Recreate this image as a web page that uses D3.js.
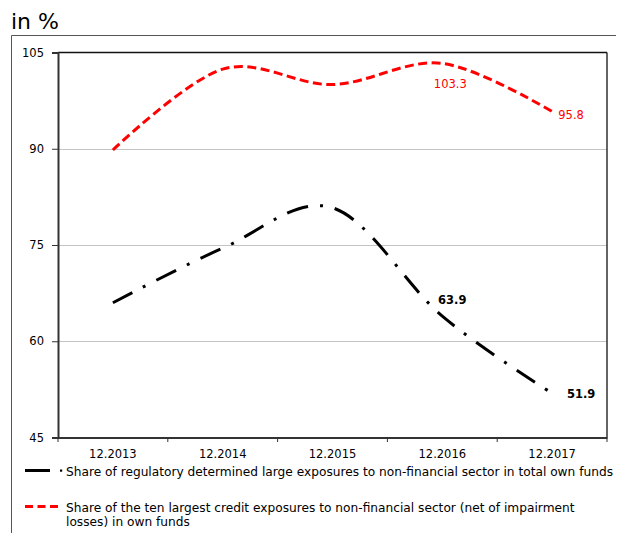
<!DOCTYPE html>
<html>
<head>
<meta charset="utf-8">
<script src="https://cdn.jsdelivr.net/npm/d3@7"></script>
<style>
  html, body { margin: 0; padding: 0; background: #fff; }
  svg { display: block; }
  text { font-family: "DejaVu Sans", Verdana, sans-serif; }
</style>
</head>
<body>
<svg id="chart" width="617" height="533"></svg>
<script>
// ---- data ----
const categories = ["12.2013", "12.2014", "12.2015", "12.2016", "12.2017"];
const largeExposures = [66.0, 74.5, 80.8, 63.9, 51.9];
const tenLargest = [89.8, 102.4, 100.0, 103.3, 95.8];
const yTicks = [45, 60, 75, 90, 105];
const seriesNames = [
  "Share of regulatory determined large exposures to non-financial sector in total own funds",
  "Share of the ten largest credit exposures to non-financial sector (net of impairment",
  "losses) in own funds"
];
const labelledLarge = [3, 4];
const labelledTen = [3, 4];

// ---- layout ----
const svg = d3.select("#chart");
const plotLeft = 58, plotRight = 607, plotTop = 52.5, plotBottom = 437.5;

const x = d3.scaleBand().domain(categories).range([plotLeft, plotRight]).paddingInner(0).paddingOuter(0);
const y = d3.scaleLinear().domain([45, 105]).range([plotBottom, plotTop]);
const cx = c => x(c) + x.bandwidth() / 2;

// outer frame (top and left lines)
svg.append("line").attr("x1", 11.5).attr("x2", 616).attr("y1", 35.5).attr("y2", 35.5)
  .attr("stroke", "#555").attr("stroke-width", 1);
svg.append("line").attr("x1", 11.5).attr("x2", 11.5).attr("y1", 35.5).attr("y2", 533)
  .attr("stroke", "#555").attr("stroke-width", 1);

// title
svg.append("text").attr("x", 11).attr("y", 29).attr("font-size", 22).attr("fill", "#000").text("in %");

// gridlines
svg.append("g").selectAll("line").data(yTicks.filter(v => v > 45 && v < 105)).join("line")
  .attr("x1", plotLeft).attr("x2", plotRight)
  .attr("y1", d => Math.round(y(d)) + 0.5).attr("y2", d => Math.round(y(d)) + 0.5)
  .attr("stroke", "#c4c4c4").attr("stroke-width", 1);

// plot border top & right
svg.append("line").attr("x1", plotLeft).attr("x2", plotRight).attr("y1", y(105)).attr("y2", y(105))
  .attr("stroke", "#111").attr("stroke-width", 1.3);
svg.append("line").attr("x1", plotRight).attr("x2", plotRight).attr("y1", y(105)).attr("y2", y(45))
  .attr("stroke", "#111").attr("stroke-width", 1.3);

// y axis
const yAxis = svg.append("g").attr("transform", `translate(${plotLeft},0)`)
  .call(d3.axisLeft(y).tickValues(yTicks).tickSize(6).tickPadding(8).tickFormat(d3.format("d")));
yAxis.select(".domain").attr("stroke", "#333").attr("stroke-width", 2);
yAxis.selectAll(".tick line").attr("stroke", "#333").attr("stroke-width", 1);
yAxis.selectAll("text").attr("font-size", 11.5).attr("fill", "#000")
  .attr("font-family", "DejaVu Sans, Verdana, sans-serif");

// x axis
const xAxis = svg.append("g").attr("transform", `translate(0,${plotBottom})`)
  .call(d3.axisBottom(x).tickSize(0).tickPadding(12));
xAxis.select(".domain").attr("stroke", "#333").attr("stroke-width", 2);
xAxis.selectAll("text").attr("font-size", 11.5).attr("fill", "#000")
  .attr("font-family", "DejaVu Sans, Verdana, sans-serif");
// boundary ticks
const bounds = categories.map(c => x(c)).concat([x(categories[categories.length - 1]) + x.bandwidth()]);
svg.append("g").selectAll("line").data(bounds).join("line")
  .attr("x1", d => d).attr("x2", d => d).attr("y1", plotBottom).attr("y2", plotBottom + 4.5)
  .attr("stroke", "#333").attr("stroke-width", 1);

// lines
const line = d3.line().x((d, i) => cx(categories[i])).y(d => y(d)).curve(d3.curveCardinal.tension(0));

svg.append("path").datum(tenLargest).attr("d", line)
  .attr("fill", "none").attr("stroke", "#ff0000").attr("stroke-width", 3)
  .attr("stroke-dasharray", "9,4.5");

svg.append("path").datum(largeExposures).attr("d", line)
  .attr("fill", "none").attr("stroke", "#000").attr("stroke-width", 3)
  .attr("stroke-dasharray", "22,12,3,12");

// data labels
svg.append("g").selectAll("text").data(labelledTen).join("text")
  .attr("x", i => cx(categories[i]) + (i === 4 ? 19 : 8))
  .attr("y", i => y(tenLargest[i]) + (i === 4 ? 7.5 : 25))
  .attr("text-anchor", "middle").attr("font-size", 11.5).attr("fill", "#ff0000")
  .text(i => tenLargest[i].toFixed(1));

svg.append("g").selectAll("text").data(labelledLarge).join("text")
  .attr("x", i => cx(categories[i]) + (i === 4 ? 29 : 10))
  .attr("y", i => y(largeExposures[i]) + (i === 4 ? 5 : -12))
  .attr("text-anchor", "middle").attr("font-size", 11.5).attr("font-weight", "bold").attr("fill", "#000")
  .text(i => largeExposures[i].toFixed(1));

// legend
const lg = svg.append("g");
lg.append("line").attr("x1", 25).attr("x2", 50).attr("y1", 470.5).attr("y2", 470.5)
  .attr("stroke", "#000").attr("stroke-width", 3);
lg.append("rect").attr("x", 60).attr("y", 469.5).attr("width", 2.2).attr("height", 2.2).attr("fill", "#000");
lg.append("text").attr("x", 66).attr("y", 475.5).attr("font-size", 12.2).attr("fill", "#000").text(seriesNames[0]);

lg.append("line").attr("x1", 25).attr("x2", 60).attr("y1", 506.5).attr("y2", 506.5)
  .attr("stroke", "#ff0000").attr("stroke-width", 3).attr("stroke-dasharray", "8,4.5");
lg.append("text").attr("x", 66).attr("y", 512).attr("font-size", 12.2).attr("fill", "#000").text(seriesNames[1]);
lg.append("text").attr("x", 66).attr("y", 526).attr("font-size", 12.2).attr("fill", "#000").text(seriesNames[2]);
</script>
</body>
</html>
